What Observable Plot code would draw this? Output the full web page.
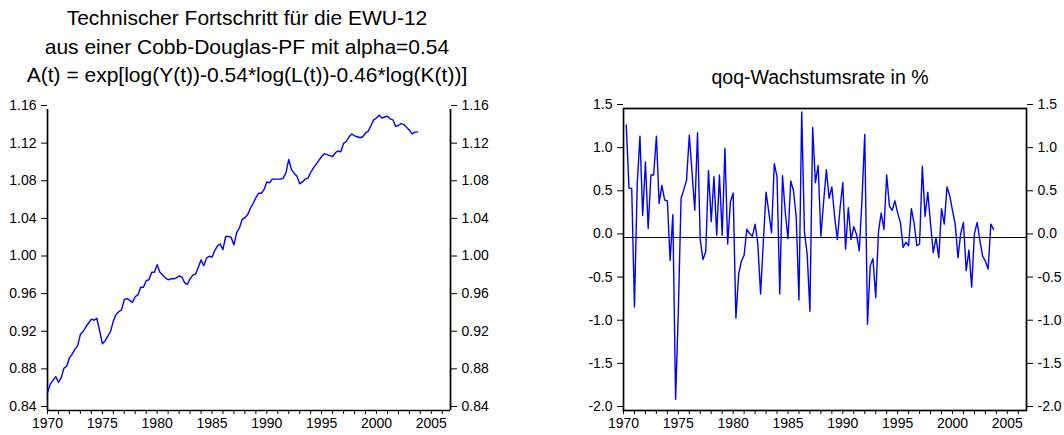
<!DOCTYPE html>
<html><head><meta charset="utf-8">
<script src="https://cdn.jsdelivr.net/npm/d3@7"></script>
<script src="https://cdn.jsdelivr.net/npm/@observablehq/plot@0.6"></script>
<style>
body{margin:0;background:#fff;font-family:"Liberation Sans",Arial,sans-serif;}
#wrap{position:relative;width:1064px;height:435px;overflow:hidden;}
.title{position:absolute;text-align:center;line-height:28.5px;color:#000;white-space:nowrap;z-index:2}
.panel{position:absolute;top:0}
</style></head><body>
<div id="wrap">
<div class="title" style="left:0;width:494px;top:4px;font-size:21px;">Technischer Fortschritt für die EWU-12<br>aus einer Cobb-Douglas-PF mit alpha=0.54<br>A(t) = exp[log(Y(t))-0.54*log(L(t))-0.46*log(K(t))]</div>
<div class="title" style="left:600px;width:440px;top:63px;font-size:19.5px;">qoq-Wachstumsrate in %</div>
<div class="panel" id="p1" style="left:0"></div>
<div class="panel" id="p2" style="left:532px"></div>
</div>
<script>
// Technical progress A(t), quarterly 1970Q1 - 2003Q4
const techLevel = [
 0.859,0.868,0.872,0.876, 0.870,0.875,0.885,0.887, 0.896,0.900,0.905,0.909,
 0.921,0.924,0.929,0.933, 0.937,0.936,0.938,0.925, 0.911,0.914,0.919,0.924,
 0.935,0.942,0.945,0.947, 0.958,0.959,0.957,0.955, 0.961,0.963,0.971,0.971,
 0.978,0.979,0.987,0.987, 0.995,0.987,0.984,0.981, 0.979,0.980,0.980,0.981,
 0.983,0.982,0.976,0.974, 0.980,0.984,0.985,0.992, 1.000,0.994,1.002,1.004,
 1.003,1.010,1.015,1.017, 1.011,1.025,1.025,1.024, 1.016,1.029,1.034,1.043,
 1.045,1.048,1.055,1.060, 1.066,1.071,1.071,1.075, 1.083,1.082,1.086,1.086,
 1.086,1.086,1.087,1.093, 1.107,1.096,1.092,1.089, 1.081,1.083,1.086,1.087,
 1.093,1.098,1.102,1.106, 1.110,1.113,1.112,1.111, 1.110,1.114,1.116,1.115,
 1.124,1.126,1.131,1.134, 1.132,1.131,1.130,1.131, 1.135,1.137,1.143,1.149,
 1.151,1.154,1.151,1.152, 1.153,1.150,1.149,1.142, 1.143,1.145,1.144,1.141,
 1.138,1.134,1.136,1.136
];
// qoq growth rate in %, quarterly 1970Q2 - 2003Q4
const growthRate = [
 1.31,0.58,0.57,
 -0.80,0.62,1.18,0.26, 0.88,0.11,0.73,0.73, 1.18,0.40,0.61,0.44,
 0.43,-0.26,0.27,-1.87, -0.85,0.46,0.56,0.67, 1.19,0.76,0.32,1.22,
 -0.03,-0.25,-0.16,0.78, 0.19,0.71,0.03,0.73, 0.03,1.04,-0.07,0.42,
 0.52,-0.93,-0.42,-0.27, -0.20,0.10,0.05,0.02, 0.16,-0.07,-0.65,-0.05,
 0.53,0.30,0.06,0.86, 0.71,-0.65,0.72,0.30, -0.01,0.66,0.55,0.24,
 -0.72,1.46,0.07,-0.19, -0.85,1.28,0.64,0.84, 0.02,0.42,0.79,0.46,
 0.59,0.25,-0.02,0.35, 0.64,-0.13,0.35,-0.02, 0.13,0.04,-0.15,0.45,
 1.20,-1.00,-0.32,-0.24, -0.69,0.07,0.29,0.10, 0.73,0.37,0.32,0.43,
 0.29,0.18,-0.11,-0.05, -0.09,0.34,0.17,-0.09, -0.07,0.83,0.25,0.53,
 0.16,-0.17,0.00,-0.23, 0.34,0.16,0.59,0.49, 0.32,0.16,-0.23,0.05,
 0.18,-0.38,-0.14,-0.57, 0.05,0.18,-0.03,-0.21, -0.27,-0.36,0.16,0.10
];
const levelStart = 1970.0;
const growthStart = 1970.25;
const yearTicks = [1970,1971,1972,1973,1974,1975,1976,1977,1978,1979,1980,1981,1982,1983,1984,1985,1986,1987,1988,1989,1990,1991,1992,1993,1994,1995,1996,1997,1998,1999,2000,2001,2002,2003,2004,2005,2006];
const yearLabels = [1970,1975,1980,1985,1990,1995,2000,2005];
const levelTicks = [0.84,0.88,0.92,0.96,1.00,1.04,1.08,1.12,1.16];
const growthTicks = [-2.0,-1.5,-1.0,-0.5,0.0,0.5,1.0,1.5];

const levelData = techLevel.map((v,i)=>({t: levelStart + i/4, v}));
const growthData = growthRate.map((v,i)=>({t: growthStart + i/4, v}));

const font = {fontFamily: "'Liberation Sans', Arial, sans-serif", fontSize: "14px", background: "white", color: "black", overflow: "visible"};
const xEnd = 2006.75;
const xAxis = [
  Plot.axisX({anchor: "bottom", ticks: yearTicks, tickSize: 4, tickPadding: 4, label: null,
    tickFormat: d => yearLabels.includes(d) ? String(d) : ""})
];
function yAxes(ticks, fmt){
  return [
    Plot.axisY({anchor: "left", ticks, tickSize: 6, tickPadding: 5, dy: -4, label: null, tickFormat: fmt}),
    Plot.axisY({anchor: "right", ticks, tickSize: 6, tickPadding: 5, dy: -4, label: null, tickFormat: fmt})
  ];
}

const p1 = Plot.plot({
  width: 532, height: 435,
  marginLeft: 47, marginRight: 82, marginTop: 109, marginBottom: 25,
  style: font,
  x: {domain: [1970, xEnd]},
  y: {domain: [0.84, 1.16]},
  marks: [
    ...yAxes(levelTicks, d => d.toFixed(2)),
    ...xAxis,
    Plot.ruleX([1970, xEnd], {stroke: "black", strokeWidth: 1.7}),
    Plot.ruleY([0.84], {stroke: "black", strokeWidth: 1.7}),
    Plot.line(levelData, {x: "t", y: "v", stroke: "#0000ff", strokeWidth: 1.4})
  ]
});
document.getElementById("p1").append(p1);

const p2 = Plot.plot({
  width: 532, height: 435,
  marginLeft: 91, marginRight: 38, marginTop: 108, marginBottom: 25,
  style: font,
  x: {domain: [1970, xEnd]},
  y: {domain: [-2.0, 1.5]},
  marks: [
    ...yAxes(growthTicks, d => d.toFixed(1)),
    ...xAxis,
    Plot.ruleY([0], {stroke: "black", strokeWidth: 1, shapeRendering: "crispEdges"}),
    Plot.frame({stroke: "black", strokeWidth: 1.7}),
    Plot.line(growthData, {x: "t", y: "v", stroke: "#0000ff", strokeWidth: 1.4})
  ]
});
document.getElementById("p2").append(p2);
</script>
</body></html>
